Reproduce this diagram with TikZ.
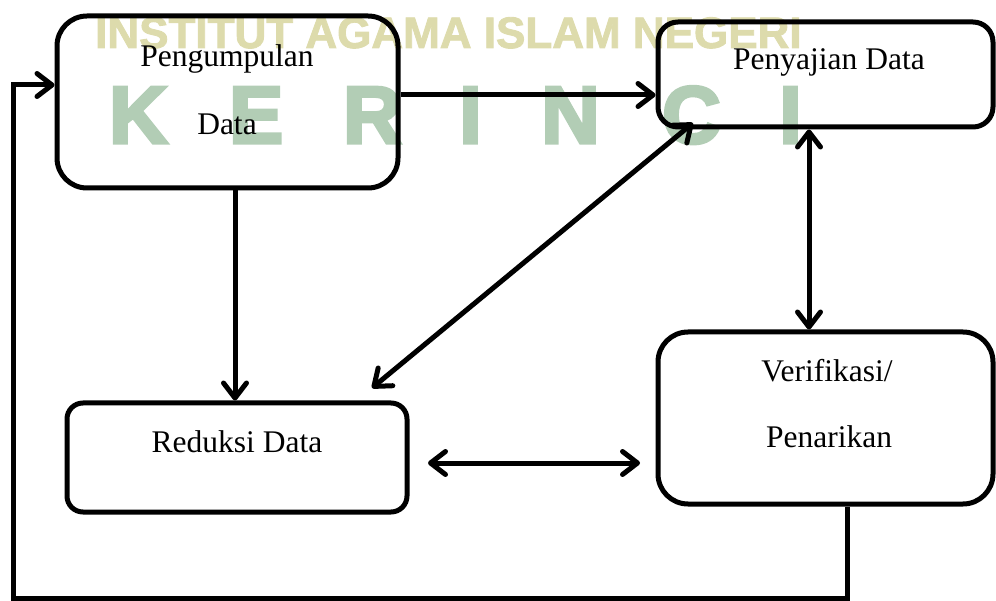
\documentclass[tikz,border=0pt]{standalone}
\usepackage{fontspec}
\setmainfont{Liberation Serif}
\newfontfamily\wmfont{Liberation Sans}[BoldFeatures={FakeBold=2}]
\newfontfamily\wmbigfont{Liberation Sans}[BoldFeatures={FakeBold=4}]
\usetikzlibrary{arrows.meta}
\definecolor{wmolive}{RGB}{221,219,172}
\definecolor{wmgreen}{RGB}{178,205,181}
\begin{document}
\begin{tikzpicture}[x=1pt,y=-1pt,
  procbox/.style={draw, line width=5pt, inner sep=0pt},
  lbl/.style={anchor=base, inner sep=0pt, font=\fontsize{31.5}{38}\selectfont},
  wmtop/.style={anchor=base west, inner sep=0pt, text=wmolive, font=\wmfont\bfseries\fontsize{44}{50}\selectfont},
  wmbig/.style={anchor=base west, inner sep=0pt, text=wmgreen, font=\wmbigfont\bfseries\fontsize{81}{90}\selectfont},
  conn/.style={line width=5pt},
  tipbarb/.tip={Straight Barb[length=15pt,width=23pt,round]},
  arr/.style={conn, -tipbarb},
  darr/.style={conn, tipbarb-tipbarb}]
\useasboundingbox (0,0) rectangle (996,601);
% watermark
\node[wmtop] (wm) at (95,48) {INSTITUT AGAMA ISLAM NEGERI};
\node[wmbig] (k1) at (109,143) {K};
\node[wmbig] (k2) at (229,143) {E};
\node[wmbig] (k3) at (343,143) {R};
\node[wmbig] (k4) at (459,143) {I};
\node[wmbig] (k5) at (541,143) {N};
\node[wmbig] (k6) at (662,143) {C};
\node[wmbig] (k7) at (779,143) {I};
% boxes
\node[procbox, rounded corners=30pt, minimum width=341pt, minimum height=172pt] (pd) at (227.5,102) {};
\node[procbox, rounded corners=20pt, minimum width=335pt, minimum height=105pt] (sd) at (825.5,74.5) {};
\node[procbox, rounded corners=16pt, minimum width=340pt, minimum height=109pt] (rd) at (237,457.5) {};
\node[procbox, rounded corners=30pt, minimum width=335pt, minimum height=172pt] (vp) at (825.5,418) {};
% labels
\node[lbl] (pdt1) at (227,67) {Pengumpulan};
\node[lbl] (pdt2) at (227,135) {Data};
\node[lbl] (sdt) at (829,70) {Penyajian Data};
\node[lbl] (rdt) at (237,452) {Reduksi Data};
\node[lbl] (vpt1) at (827,382) {Verifikasi/};
\node[lbl] (vpt2) at (829,447) {Penarikan};
% helper coordinates
\coordinate (xv) at (809,0);
\coordinate (d1) at (693,123);
\coordinate (d2) at (372,388);
\coordinate (h1) at (428,463);
\coordinate (h2) at (640,463);
\coordinate (fbx) at (847,0);
\coordinate (fbl) at (13,598);
% connectors
\draw[arr] ([yshift=7pt]pd.east) -- ([yshift=7pt]pd.east -| sd.west);
\draw[arr] ([xshift=7.5pt]pd.south) -- ([xshift=7.5pt]pd.south |- rd.north);
\draw[darr] (d2) -- (d1);
\draw[darr] (sd.south -| xv) -- (vp.north -| xv);
\draw[darr] (h1) -- (h2);
\draw[arr] (vp.south -| fbx) |- (fbl) |- ([yshift=17pt]pd.west);
\end{tikzpicture}
\end{document}
